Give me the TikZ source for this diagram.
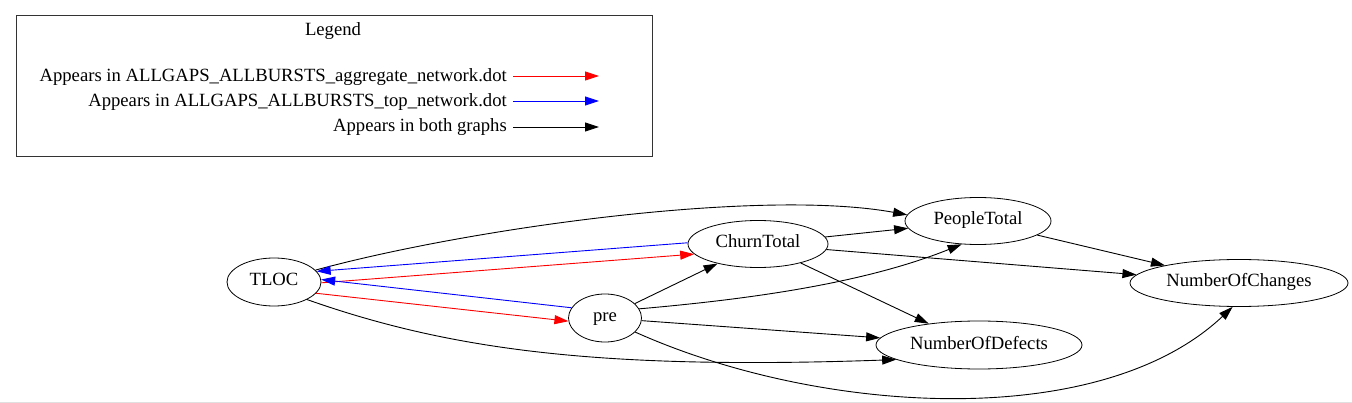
\documentclass[tikz,border=0pt]{standalone}
\usepackage{fontspec}
\setmainfont{Liberation Serif}
\usetikzlibrary{shapes.geometric,arrows.meta}
\begin{document}
\begin{tikzpicture}[x=1pt,y=-1pt,
  every node/.style={font=\fontsize{18.67}{22}\selectfont},
  ell/.style={draw,ellipse,inner sep=0pt,line width=0.8pt,text height=12pt,text depth=4pt},
  edge/.style={line width=0.9pt,-{Triangle[length=14pt,width=9pt]}},
  redge/.style={edge,red},
  bedge/.style={edge,blue},
  kedge/.style={edge,black}]
\useasboundingbox (0,0) rectangle (1352,403);
\fill[black!12] (0,401.5) rectangle (1352,403);
% legend
\node[draw=black!80,line width=0.9pt,minimum width=636pt,minimum height=141pt,inner sep=0pt] (legbox) at (334,85.5) {};
\node (legtitle) at (333,31) {Legend};
\node[anchor=base east,inner sep=0pt] (l1) at (507,82) {Appears in ALLGAPS\_ALLBURSTS\_aggregate\_network.dot};
\node[anchor=base east,inner sep=0pt] (l2) at (507,107) {Appears in ALLGAPS\_ALLBURSTS\_top\_network.dot};
\node[anchor=base east,inner sep=0pt] (l3) at (507,132) {Appears in both graphs};
\coordinate (a1s) at (513,76); \coordinate (a1e) at (599,76);
\coordinate (a2s) at (513,101); \coordinate (a2e) at (599,101);
\coordinate (a3s) at (513,127); \coordinate (a3e) at (599,127);
\draw[redge] (a1s) -- (a1e);
\draw[bedge] (a2s) -- (a2e);
\draw[kedge] (a3s) -- (a3e);
% nodes
\node[ell,minimum width=94pt,minimum height=48pt] (T) at (274,282) {TLOC};
\node[ell,minimum width=73pt,minimum height=48pt] (pre) at (605,318) {pre};
\node[ell,minimum width=140pt,minimum height=47pt] (C) at (758,244) {ChurnTotal};
\node[ell,minimum width=146pt,minimum height=47pt] (PT) at (978,221) {PeopleTotal};
\node[ell,minimum width=218pt,minimum height=47pt] (NC) at (1239,283) {NumberOfChanges};
\node[ell,minimum width=206pt,minimum height=48pt] (ND) at (979,345) {NumberOfDefects};
% edges
\draw[kedge] (T.16) .. controls (470,228) and (760,188) .. (PT.175);
\draw[kedge] (T.-28) .. controls (450,350) and (600,370) .. (ND.190);
\draw[bedge] (C.179) -- (T.14);
\draw[redge] (T.-1) -- (C.189);
\draw[bedge] (pre.163) -- (T.3);
\draw[redge] (T.-15) -- (pre.185);
\draw[kedge] (pre) -- (C);
\draw[kedge] (pre.15) .. controls (740,300) and (860,285) .. (PT.-125);
\draw[kedge] (pre) -- (ND);
\draw[kedge] (pre.-25) .. controls (820,415) and (1100,432) .. (NC.-105);
\draw[kedge] (C) -- (PT);
\draw[kedge] (C) -- (NC);
\draw[kedge] (C.-24) -- (ND.157);
\draw[kedge] (PT) -- (NC);
\end{tikzpicture}
\end{document}
